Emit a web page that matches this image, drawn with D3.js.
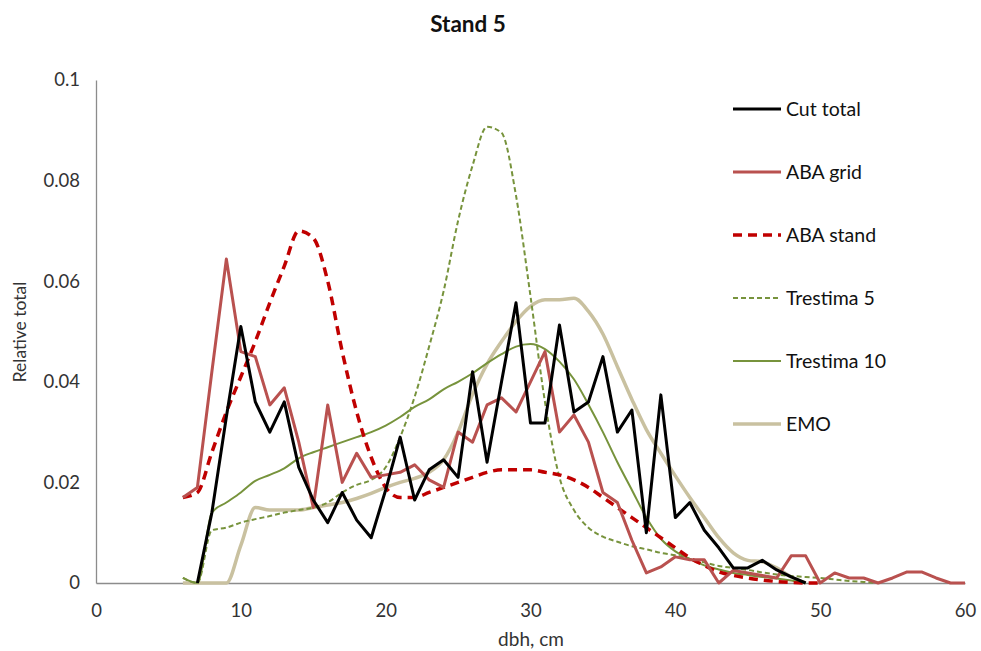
<!DOCTYPE html>
<html>
<head>
<meta charset="utf-8">
<script src="https://cdn.jsdelivr.net/npm/d3@7"></script>
<style>
  html, body { margin: 0; padding: 0; background: #fff; }
  svg text { font-family: Lato, "Open Sans", sans-serif; fill: #222; }
</style>
</head>
<body>
<svg id="chart" width="981" height="651"></svg>
<script>
const title = "Stand 5";
const xLabel = "dbh, cm";
const yLabel = "Relative total";
const xTicks = [0, 10, 20, 30, 40, 50, 60];
const yTicks = [0, 0.02, 0.04, 0.06, 0.08, 0.1];
const yTickLabels = ["0", "0.02", "0.04", "0.06", "0.08", "0.1"];

const seriesNames = ["Cut total", "ABA grid", "ABA stand", "Trestima 5", "Trestima 10", "EMO"];

// Cut total: dbh 7..49
const cutStart = 7;
const cutTotal = [0, 0.014, 0.033, 0.051, 0.036, 0.030, 0.036, 0.023, 0.0165, 0.012,
  0.018, 0.0125, 0.009, 0.0185, 0.029, 0.0165, 0.0225, 0.0245, 0.021, 0.042,
  0.024, 0.040, 0.0557, 0.0318, 0.0318, 0.0513, 0.034, 0.036, 0.045, 0.030,
  0.0344, 0.010, 0.0374, 0.013, 0.016, 0.0105, 0.007, 0.003, 0.003, 0.0045,
  0.0026, 0.0012, 0];

// ABA grid: dbh 6..60
const abaGridStart = 6;
const abaGrid = [0.017, 0.019, 0.042, 0.0644, 0.046, 0.045, 0.0354, 0.0388, 0.028, 0.015,
  0.0354, 0.020, 0.0258, 0.021, 0.0215, 0.022, 0.0235, 0.0205, 0.019, 0.030,
  0.028, 0.0354, 0.0368, 0.034, 0.040, 0.046, 0.030, 0.0334, 0.028, 0.018,
  0.016, 0.0085, 0.002, 0.0032, 0.0052, 0.0046, 0.0046, 0, 0.0025, 0.002,
  0.0015, 0.001, 0.0054, 0.0054, 0, 0.002, 0.001, 0.001, 0, 0.001,
  0.0022, 0.0022, 0.001, 0, 0];

// ABA stand: dbh 6..50
const abaStandStart = 6;
const abaStand = [0.017, 0.018, 0.026, 0.034, 0.041, 0.048, 0.0557, 0.063, 0.070, 0.0686,
  0.060, 0.046, 0.034, 0.025, 0.019, 0.017, 0.017, 0.018, 0.019, 0.020,
  0.021, 0.022, 0.0225, 0.0225, 0.0225, 0.022, 0.0215, 0.0205, 0.019, 0.017,
  0.015, 0.013, 0.011, 0.009, 0.007, 0.005, 0.0035, 0.0022, 0.0015, 0.001,
  0.0006, 0.0003, 0.0001, 0, 0];

// Trestima 5: dbh 6..54
const trestima5Start = 6;
const trestima5 = [0.001, 0, 0.0105, 0.011, 0.012, 0.0127, 0.0133, 0.014, 0.0145, 0.015,
  0.016, 0.018, 0.0195, 0.0205, 0.023, 0.029, 0.037, 0.047, 0.058, 0.072,
  0.083, 0.0907, 0.0895, 0.077, 0.057, 0.036, 0.021, 0.0145, 0.011, 0.0092,
  0.0082, 0.0073, 0.0067, 0.006, 0.0055, 0.0048, 0.0041, 0.0034, 0.003, 0.0026,
  0.0021, 0.0017, 0.0014, 0.0012, 0.001, 0.0007, 0.0004, 0.0002, 0];

// Trestima 10: dbh 6..49
const trestima10Start = 6;
const trestima10 = [0.001, 0, 0.014, 0.016, 0.018, 0.0203, 0.0215, 0.0228, 0.0248, 0.026,
  0.027, 0.028, 0.029, 0.030, 0.0313, 0.033, 0.035, 0.0365, 0.0385, 0.040,
  0.0417, 0.0437, 0.0455, 0.047, 0.0475, 0.0465, 0.044, 0.0405, 0.0355, 0.030,
  0.024, 0.0185, 0.013, 0.0088, 0.0063, 0.0048, 0.0035, 0.0027, 0.002, 0.0016,
  0.0012, 0.0009, 0.0005, 0];

// EMO: dbh 6..49
const emoStart = 6;
const emo = [0, 0, 0, 0, 0.0075, 0.015, 0.0145, 0.0145, 0.0145, 0.015,
  0.0155, 0.016, 0.0168, 0.0178, 0.019, 0.020, 0.0208, 0.022, 0.0245, 0.030,
  0.0375, 0.0435, 0.048, 0.052, 0.055, 0.0563, 0.0563, 0.0566, 0.054, 0.0495,
  0.043, 0.0365, 0.0305, 0.0258, 0.0213, 0.017, 0.013, 0.009, 0.006, 0.0045,
  0.0042, 0.003, 0.0012, 0];

const toPts = (start, arr) => arr.map((v, i) => ({ x: start + i, y: v }));

const series = [
  { name: seriesNames[0], pts: toPts(cutStart, cutTotal), color: "#000000", width: 3, dash: null, smooth: false },
  { name: seriesNames[1], pts: toPts(abaGridStart, abaGrid), color: "#B9514F", width: 3, dash: null, smooth: false },
  { name: seriesNames[2], pts: toPts(abaStandStart, abaStand), color: "#C00000", width: 3.5, dash: "9,6", smooth: true },
  { name: seriesNames[3], pts: toPts(trestima5Start, trestima5), color: "#77933C", width: 2, dash: "5,3", smooth: true },
  { name: seriesNames[4], pts: toPts(trestima10Start, trestima10), color: "#77933C", width: 2, dash: null, smooth: true },
  { name: seriesNames[5], pts: toPts(emoStart, emo), color: "#C9C1A0", width: 3.5, dash: null, smooth: true }
];

const svg = d3.select("#chart");
const mLeft = 96, mRight = 965, mTop = 80, mBottom = 583;

const x = d3.scaleLinear().domain([0, 60]).range([mLeft, mRight]);
const y = d3.scaleLinear().domain([0, 0.1]).range([mBottom, mTop]);

// Title
svg.append("text").attr("x", 468).attr("y", 32).attr("text-anchor", "middle")
  .style("font-size", "22.5px").style("font-weight", "bold").style("fill", "#111").text(title);

// Axes
const xAxis = d3.axisBottom(x).tickValues(xTicks).tickSize(0).tickPadding(21);
const gx = svg.append("g").attr("transform", `translate(0,${mBottom})`).call(xAxis);
gx.select(".domain").attr("stroke", "#8c8c8c").attr("stroke-width", 1.3);
gx.selectAll("text").style("font-size", "18.5px").style("font-family", "Lato, sans-serif").style("fill", "#333");

const yAxis = d3.axisLeft(y).tickValues(yTicks).tickSize(0).tickPadding(16)
  .tickFormat((d, i) => yTickLabels[i]);
const gy = svg.append("g").attr("transform", `translate(${mLeft},0)`).call(yAxis);
gy.select(".domain").attr("stroke", "#8c8c8c").attr("stroke-width", 1.3);
gy.selectAll("text").style("font-size", "18.5px").style("font-family", "Lato, sans-serif").style("fill", "#333");

// Axis labels
svg.append("text").attr("x", 531).attr("y", 646).attr("text-anchor", "middle")
  .style("font-size", "19px").style("fill", "#333").text(xLabel);
svg.append("text").attr("transform", "translate(26,332) rotate(-90)").attr("text-anchor", "middle")
  .style("font-size", "17.5px").style("fill", "#333").text(yLabel);

// Lines
const drawOrder = [5, 4, 3, 2, 1, 0];
const plot = svg.append("g");
drawOrder.forEach(i => {
  const s = series[i];
  const line = d3.line().x(d => x(d.x)).y(d => y(d.y))
    .curve(s.smooth ? d3.curveMonotoneX : d3.curveLinear);
  plot.append("path").datum(s.pts)
    .attr("d", line)
    .attr("fill", "none")
    .attr("stroke", s.color)
    .attr("stroke-width", s.width)
    .attr("stroke-linejoin", "round")
    .attr("stroke-dasharray", s.dash);
});

// Legend
const legend = svg.append("g");
series.forEach((s, i) => {
  const ly = 109 + i * 63;
  legend.append("line").attr("x1", 733).attr("x2", 781).attr("y1", ly).attr("y2", ly)
    .attr("stroke", s.color).attr("stroke-width", s.width).attr("stroke-dasharray", s.dash);
  legend.append("text").attr("x", 786).attr("y", ly + 7).style("font-size", "19.5px").style("fill", "#111").text(s.name);
});
</script>
</body>
</html>
